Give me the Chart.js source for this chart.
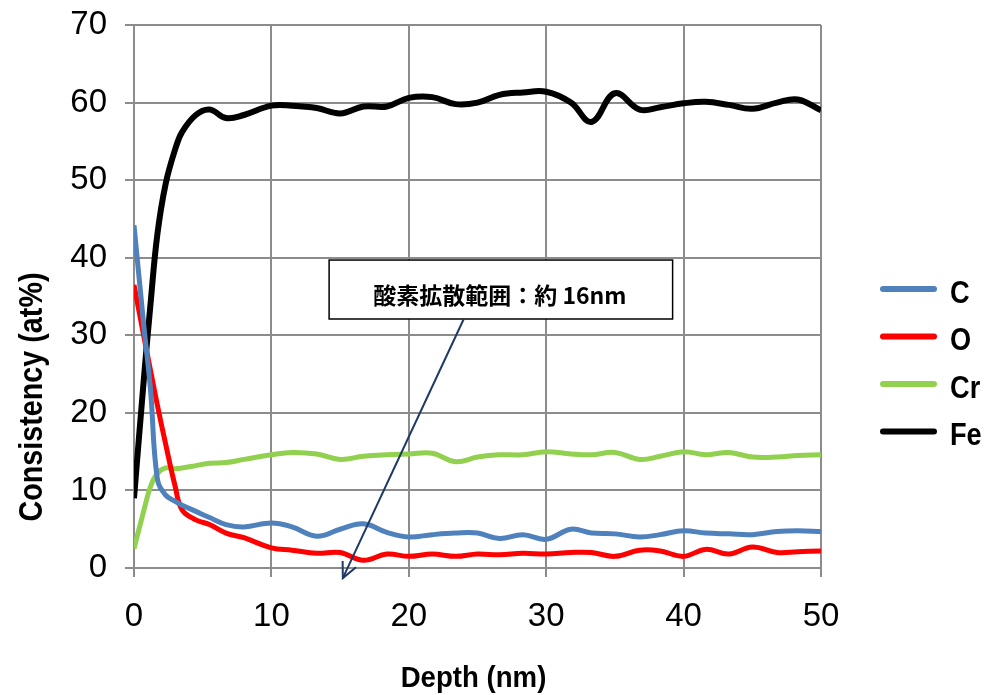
<!DOCTYPE html>
<html lang="ja">
<head>
    <meta charset="UTF-8">
    <title>Depth profile</title>
    <script src="https://cdn.jsdelivr.net/npm/chart.js"></script>
    <style>
        html, body { margin: 0; padding: 0; background: #fff; }
        canvas { display: block; }
    </style>
</head>
<body>
    <canvas id="profileChart" width="989" height="695"></canvas>

    <script>
        // depth points (nm)
        const depth = [0, 0.7, 1.2, 1.7, 2.3, 3, 3.5, 4.5, 5.5, 6.7, 8, 10, 11.5, 13.3, 15, 16.7, 18.4,
            20, 21.7, 23.4, 25, 26.6, 28.3, 30, 31.8, 33.3, 35, 36.8, 38.3, 40, 41.6, 43.3, 45, 46.8, 48.3, 50];

        const carbon = [44.2, 31.5, 23, 11.5, 9.4, 8.6, 8.1, 7.3, 6.5, 5.6, 5.3, 5.8, 5.3, 4.1, 5.0, 5.7, 4.6,
            4.0, 4.3, 4.5, 4.5, 3.8, 4.3, 3.7, 5.0, 4.5, 4.4, 4.0, 4.3, 4.8, 4.5, 4.4, 4.3, 4.7, 4.8, 4.7];
        const oxygen = [36.5, 30, 25.5, 21, 16, 10.5, 7.5, 6.2, 5.6, 4.5, 3.9, 2.6, 2.3, 1.9, 2.0, 1.0, 1.8,
            1.5, 1.8, 1.5, 1.8, 1.7, 1.9, 1.8, 2.0, 2.0, 1.5, 2.3, 2.2, 1.5, 2.4, 1.8, 2.7, 2.0, 2.1, 2.2];
        const chromium = [2.5, 7.3, 10.5, 12.2, 12.9, 12.8, 12.9, 13.2, 13.5, 13.6, 14.0, 14.6, 14.9, 14.7, 14.0, 14.4, 14.6,
            14.7, 14.8, 13.7, 14.3, 14.6, 14.6, 15.0, 14.7, 14.6, 14.9, 14.0, 14.4, 15.0, 14.6, 14.9, 14.3, 14.3, 14.5, 14.6];
        const iron = [9, 24, 34, 43, 49.5, 54, 56.2, 58.4, 59.1, 58.0, 58.4, 59.6, 59.6, 59.3, 58.6, 59.5, 59.5,
            60.6, 60.7, 59.8, 60.0, 61.0, 61.3, 61.4, 60.0, 57.5, 61.2, 59.1, 59.4, 59.9, 60.1, 59.7, 59.2, 60.0, 60.4, 59.0];

        const seriesNames = ['C', 'O', 'Cr', 'Fe'];
        const seriesColors = ['#4f81bd', '#ff0000', '#92d050', '#000000'];

        const xTitle = 'Depth (nm)';
        const yTitle = 'Consistency (at%)';

        // callout: text and where the arrow points (depth, value)
        const noteText = '酸素拡散範囲：約 16nm';
        const noteBox = { x1: 14.2, x2: 39.2, y1: 39.7, y2: 32.1 };
        const noteArrowFrom = { x: 24.0, y: 32.1 };
        const noteArrowTo = { x: 15.2, y: -1.3 };

        const gridColor = '#8c8c8c';
        const sans = '"Liberation Sans", Arial, sans-serif';

        function toPoints(values) {
            return values.map((v, i) => ({ x: depth[i], y: v }));
        }

        // draws text squeezed horizontally, to mimic the narrow bold face
        function narrowText(ctx, text, x, y, squeeze) {
            ctx.save();
            ctx.translate(x, y);
            ctx.scale(squeeze, 1);
            ctx.fillText(text, 0, 0);
            ctx.restore();
        }

        const extras = {
            id: 'extras',
            afterDatasetsDraw(chart) {
                const ctx = chart.ctx;
                const xs = chart.scales.x, ys = chart.scales.y;

                // callout box
                const bx1 = xs.getPixelForValue(noteBox.x1), bx2 = xs.getPixelForValue(noteBox.x2);
                const by1 = ys.getPixelForValue(noteBox.y1), by2 = ys.getPixelForValue(noteBox.y2);
                ctx.save();
                ctx.fillStyle = '#fff';
                ctx.fillRect(bx1, by1, bx2 - bx1, by2 - by1);
                ctx.strokeStyle = '#000';
                ctx.lineWidth = 1.5;
                ctx.strokeRect(bx1, by1, bx2 - bx1, by2 - by1);
                ctx.fillStyle = '#000';
                ctx.font = 'bold 23px "Noto Sans CJK JP", sans-serif';
                ctx.textAlign = 'center';
                ctx.textBaseline = 'middle';
                ctx.fillText(noteText, (bx1 + bx2) / 2 - 1, (by1 + by2) / 2 + 6);

                // arrow
                const ax1 = xs.getPixelForValue(noteArrowFrom.x), ay1 = ys.getPixelForValue(noteArrowFrom.y);
                const ax2 = xs.getPixelForValue(noteArrowTo.x), ay2 = ys.getPixelForValue(noteArrowTo.y);
                ctx.strokeStyle = '#1f3864';
                ctx.lineWidth = 2;
                ctx.beginPath();
                ctx.moveTo(ax1, ay1);
                ctx.lineTo(ax2, ay2);
                ctx.stroke();
                const ang = Math.atan2(ay2 - ay1, ax2 - ax1);
                const head = 17;
                ctx.beginPath();
                ctx.moveTo(ax2 - head * Math.cos(ang - 0.45), ay2 - head * Math.sin(ang - 0.45));
                ctx.lineTo(ax2, ay2);
                ctx.lineTo(ax2 - head * Math.cos(ang + 0.45), ay2 - head * Math.sin(ang + 0.45));
                ctx.stroke();
                ctx.restore();
            },
            afterDraw(chart) {
                const ctx = chart.ctx;
                const area = chart.chartArea;
                ctx.save();
                ctx.fillStyle = '#000';

                // axis titles
                ctx.font = 'bold 30px ' + sans;
                ctx.textAlign = 'center';
                ctx.textBaseline = 'alphabetic';
                narrowText(ctx, xTitle, (area.left + area.right) / 2 - 4, 687, 0.92);
                ctx.save();
                ctx.translate(42, 397);
                ctx.rotate(-Math.PI / 2);
                ctx.font = 'bold 34px ' + sans;
                narrowText(ctx, yTitle, 0, 0, 0.845);
                ctx.restore();

                // legend
                const legendTop = 289, legendStep = 47.5;
                ctx.font = 'bold 32px ' + sans;
                ctx.textAlign = 'left';
                ctx.textBaseline = 'middle';
                chart.data.datasets.forEach((ds, i) => {
                    const y = legendTop + i * legendStep;
                    ctx.strokeStyle = ds.borderColor;
                    ctx.lineWidth = 6;
                    ctx.lineCap = 'round';
                    ctx.beginPath();
                    ctx.moveTo(883, y);
                    ctx.lineTo(934, y);
                    ctx.stroke();
                    narrowText(ctx, ds.label, 950, y + 5, 0.85);
                });
                ctx.restore();
            }
        };

        new Chart(document.getElementById('profileChart'), {
            type: 'line',
            data: {
                datasets: [carbon, oxygen, chromium, iron].map((vals, i) => ({
                    label: seriesNames[i],
                    data: toPoints(vals),
                    borderColor: seriesColors[i],
                    backgroundColor: seriesColors[i],
                    borderWidth: i === 3 ? 6 : 5,
                    pointRadius: 0,
                    tension: 0.4,
                    fill: false
                }))
            },
            options: {
                responsive: false,
                animation: false,
                layout: { padding: { top: 25, right: 168, left: 0, bottom: 0 } },
                plugins: {
                    legend: { display: false },
                    tooltip: { enabled: false }
                },
                scales: {
                    x: {
                        type: 'linear',
                        min: 0,
                        max: 50,
                        afterFit(scale) {
                            scale.height = 127;
                            scale.paddingLeft = 0;
                            scale.paddingRight = 0;
                        },
                        ticks: {
                            stepSize: 10,
                            padding: 20,
                            color: '#000',
                            font: { family: sans, size: 33 }
                        },
                        grid: { color: gridColor, lineWidth: 2, tickLength: 9 },
                        border: { color: gridColor, width: 2 }
                    },
                    y: {
                        min: 0,
                        max: 70,
                        afterFit(scale) {
                            scale.width = 134;
                            scale.paddingTop = 0;
                            scale.paddingBottom = 0;
                        },
                        ticks: {
                            stepSize: 10,
                            padding: 18,
                            color: '#000',
                            font: { family: sans, size: 33 }
                        },
                        grid: { color: gridColor, lineWidth: 2, tickLength: 9 },
                        border: { color: gridColor, width: 2 }
                    }
                }
            },
            plugins: [extras]
        });
    </script>
</body>
</html>
